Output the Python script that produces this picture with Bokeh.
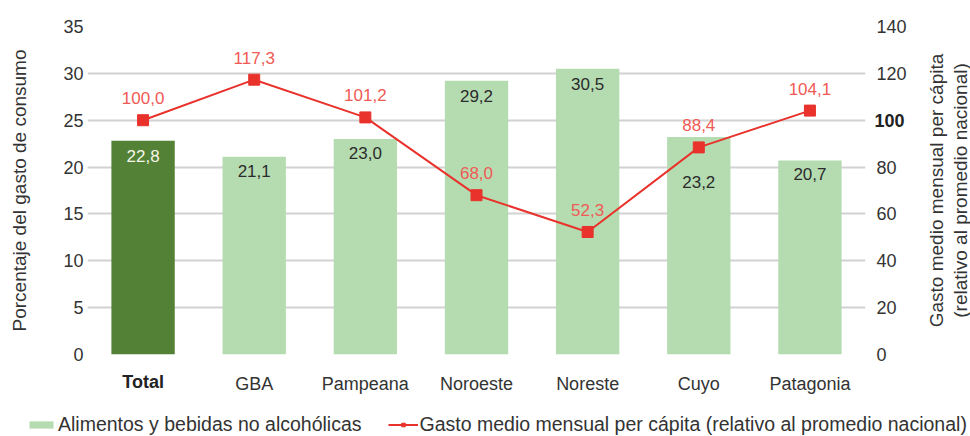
from bokeh.plotting import figure
from bokeh.layouts import column, row
from bokeh.models import (ColumnDataSource, Range1d, LinearAxis, FixedTicker, LabelSet,
                          Legend, LegendItem)
from bokeh.core.properties import value
from bokeh.embed import file_html
from bokeh.resources import INLINE

categories = ["Total", "GBA", "Pampeana", "Noroeste", "Noreste", "Cuyo", "Patagonia"]
alimentos = [22.8, 21.1, 23.0, 29.2, 30.5, 23.2, 20.7]
gasto = [100.0, 117.3, 101.2, 68.0, 52.3, 88.4, 104.1]
left_ticks = [0, 5, 10, 15, 20, 25, 30, 35]
right_ticks = [0, 20, 40, 60, 80, 100, 120, 140]
bar_name = "Alimentos y bebidas no alcohólicas"
line_name = "Gasto medio mensual per cápita (relativo al promedio nacional)"
right_title = "Gasto medio mensual per cápita\n(relativo al promedio nacional)"
left_title = "Porcentaje del gasto de consumo"

FONT = "Liberation Sans"
FS = "18px"
VS = "17px"
DARK = "#538135"
LIGHT = "#b5dbb1"
RED = "#e8322b"
LRED = "#f05a55"
TXT = "#333333"

xs = list(range(len(categories)))
fmt = lambda v: f"{v:.1f}".replace(".", ",")
bar_colors = [DARK] + [LIGHT] * (len(categories) - 1)
bar_text_colors = ["#f6f6ea"] + ["#2b2b2b"] * (len(categories) - 1)
bar_offsets = [-15, -14, -14, -15, -15, -45, -13]

bars = ColumnDataSource(dict(x=xs, y=alimentos, color=bar_colors, tc=bar_text_colors,
                             lab=[fmt(v) for v in alimentos], off=bar_offsets))
line = ColumnDataSource(dict(x=xs, y=gasto, lab=[fmt(v) for v in gasto]))

MAIN_W, MAIN_H = 926, 400

p = figure(width=MAIN_W, height=MAIN_H, output_backend="svg", toolbar_location=None,
           x_range=Range1d(-0.5, len(categories) - 0.5), y_range=Range1d(0, 35),
           min_border_left=87, min_border_right=61, min_border_top=26, min_border_bottom=46)
p.extra_y_ranges = {"right": Range1d(0, 140)}
p.outline_line_color = None

p.xgrid.visible = False
p.ygrid.grid_line_color = "#d2d2d2"
p.ygrid.grid_line_width = 2
p.ygrid.ticker = FixedTicker(ticks=left_ticks)


def style_axis(ax):
    ax.axis_line_color = None
    ax.major_tick_line_color = None
    ax.minor_tick_line_color = None
    ax.major_tick_out = 0
    ax.major_tick_in = 0
    ax.minor_tick_out = 0
    ax.minor_tick_in = 0
    ax.major_label_text_font = FONT
    ax.major_label_text_font_size = FS
    ax.major_label_text_color = TXT
    ax.axis_label_text_font = FONT
    ax.axis_label_text_font_size = FS
    ax.axis_label_text_font_style = "normal"
    ax.axis_label_text_color = TXT


# left axis
lax = p.yaxis[0]
lax.ticker = FixedTicker(ticks=left_ticks)
lax.axis_label = left_title
style_axis(lax)
lax.axis_label_text_font_size = "19px"
lax.major_label_standoff = 4
lax.axis_label_standoff = 30

# bottom axis closest to the frame: the bold "Total"
tax = p.xaxis[0]
tax.ticker = FixedTicker(ticks=[0])
tax.major_label_overrides = {0: categories[0]}
style_axis(tax)
tax.major_label_text_font_style = "bold"
tax.major_label_text_color = "#222222"
tax.major_label_standoff = 17

# second bottom axis: the other categories, pulled back into the same row
bax = LinearAxis(ticker=FixedTicker(ticks=xs[1:]),
                 major_label_overrides={i: c for i, c in enumerate(categories) if i > 0})
style_axis(bax)
bax.major_label_standoff = -21
p.add_layout(bax, "below")

# right axis closest to the frame: the bold "100"
hax = LinearAxis(y_range_name="right", ticker=FixedTicker(ticks=[100]))
style_axis(hax)
hax.major_label_text_font_style = "bold"
hax.major_label_text_color = "#222222"
hax.major_label_standoff = 9
p.add_layout(hax, "right")

# second right axis: the other ticks
rax = LinearAxis(y_range_name="right", ticker=FixedTicker(ticks=[t for t in right_ticks if t != 100]))
style_axis(rax)
rax.major_label_standoff = -31
p.add_layout(rax, "right")

# bars
p.vbar(x="x", top="y", width=0.57, color="color", line_color=None, source=bars)
p.add_layout(LabelSet(x="x", y="y", text="lab", source=bars, y_offset="off",
                      text_align="center", text_baseline="middle", text_font=value(FONT),
                      text_font_size=value(VS), text_color="tc"))

# line
p.line(x="x", y="y", source=line, y_range_name="right", line_color=RED, line_width=2)
p.scatter(x="x", y="y", source=line, y_range_name="right", marker="square", size=11,
          fill_color=RED, line_color=RED)
p.add_layout(LabelSet(x="x", y="y", text="lab", source=line, y_range_name="right",
                      y_offset=22, text_align="center", text_baseline="middle",
                      text_font=value(FONT), text_font_size=value(VS), text_color=LRED))

# right-hand title (reads bottom to top, like the reference)
side = figure(width=970 - MAIN_W, height=MAIN_H, output_backend="svg", toolbar_location=None,
              x_range=Range1d(0, 1), y_range=Range1d(0, 1), x_axis_location=None,
              min_border_left=0, min_border_right=0, min_border_top=26, min_border_bottom=46)
side.outline_line_color = None
side.grid.visible = False
sax = side.yaxis[0]
style_axis(sax)
sax.ticker = FixedTicker(ticks=[])
sax.major_label_text_font_size = "0px"
sax.major_label_standoff = 0
sax.axis_label = right_title
sax.axis_label_text_font_size = "19px"
sax.axis_label_text_line_height = 1.1
sax.axis_label_standoff = 0

# legend strip
leg = figure(width=970, height=436 - MAIN_H, output_backend="svg", toolbar_location=None,
             x_range=Range1d(100, 101), y_range=Range1d(1000, 1001),
             x_axis_location=None, y_axis_location=None, min_border=0)
leg.outline_line_color = None
leg.grid.visible = False
lb = leg.vbar(x="x", top="y", width=0.57, color=LIGHT, line_color=None, source=bars)
ll = leg.line(x="x", y="y", source=line, line_color=RED, line_width=2)
ls = leg.scatter(x="x", y="y", source=line, marker="square", size=8, fill_color=RED, line_color=RED)
legend = Legend(items=[LegendItem(label=bar_name, renderers=[lb]),
                       LegendItem(label=line_name, renderers=[ll, ls])],
                orientation="horizontal", location=(26, 0), padding=0, margin=0,
                spacing=26, glyph_width=30, glyph_height=9, label_standoff=2,
                label_text_font=FONT, label_text_font_size="19.5px", label_text_color=TXT,
                border_line_color=None, background_fill_alpha=0)
leg.add_layout(legend, "center")

layout = column(row(p, side), leg)
open("out.html", "w").write(file_html(layout, INLINE))
